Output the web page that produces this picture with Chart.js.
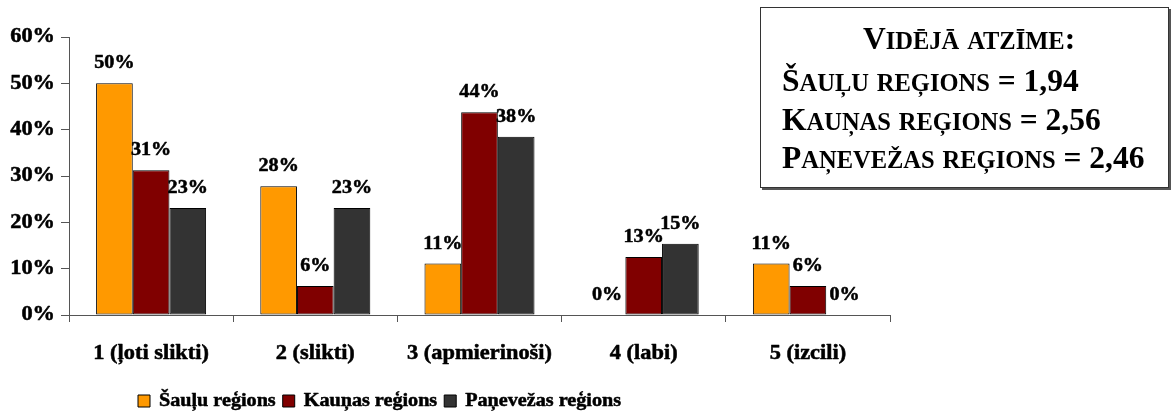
<!DOCTYPE html>
<html>
<head>
<meta charset="utf-8">
<script src="https://cdn.jsdelivr.net/npm/chart.js@4.4.1/dist/chart.umd.min.js"></script>
<style>
html, body { margin: 0; padding: 0; background: #fff; }
#wrap { position: relative; width: 1171px; height: 414px; overflow: hidden; }
#c { position: absolute; left: 0; top: 0; }
#avgBox {
  position: absolute; left: 760px; top: 7px; width: 407px; height: 179px;
  border: 1px solid #333; box-shadow: 2px 2px 0 #555; background: #fff;
  font-family: 'Liberation Serif', 'Times New Roman', serif; font-weight: bold; color: #000;
}
.ln { position: absolute; white-space: nowrap; font-size: 31.5px; line-height: 38px; }
.sc { font-size: 24.5px; text-transform: uppercase; }
</style>
</head>
<body>
<div id="wrap">
  <canvas id="c" width="1171" height="414"></canvas>
  <div id="avgBox"></div>
</div>
<script>
// ---- data ----
const categories = ['1 (ļoti slikti)', '2 (slikti)', '3 (apmierinoši)', '4 (labi)', '5 (izcili)'];
const seriesNames = ['Šauļu reģions', 'Kauņas reģions', 'Paņevežas reģions'];
const sauluValues = [50, 27.78, 11.11, 0, 11.11];
const kaunasValues = [31.25, 6.25, 43.75, 12.5, 6.25];
const panevezasValues = [23.08, 23.08, 38.46, 15.38, 0];
const yTickValues = [0, 10, 20, 30, 40, 50, 60];
const averageTitle = 'Vidējā atzīme:';
const averageRegions = ['Šauļu reģions', 'Kauņas reģions', 'Paņevežas reģions'];
const averageValues = ['1,94', '2,56', '2,46'];

// ---- text box (small caps) ----
function addSmallCaps(el, text) {
  text.split(/(\p{Ll}+)/u).forEach(part => {
    if (!part) return;
    if (/\p{Ll}/u.test(part)) {
      const s = document.createElement('span');
      s.className = 'sc';
      s.textContent = part;
      el.appendChild(s);
    } else {
      el.appendChild(document.createTextNode(part));
    }
  });
}
const box = document.getElementById('avgBox');
const boxLines = [averageTitle].concat(averageRegions.map((r, i) => r + ' = ' + averageValues[i]));
const boxLeft = [102, 21, 21, 21];
const boxTop = [12, 54, 93, 131];
boxLines.forEach((t, i) => {
  const d = document.createElement('div');
  d.className = 'ln';
  d.style.left = boxLeft[i] + 'px';
  d.style.top = boxTop[i] + 'px';
  addSmallCaps(d, t);
  box.appendChild(d);
});

// ---- chart ----
const SX = 1.12; // horizontal stretch of chart texts
const canvas = document.getElementById('c');
const ctx = canvas.getContext('2d');
(function stretchText(c) {
  const fill = c.fillText.bind(c);
  const stroke = c.strokeText.bind(c);
  const measure = c.measureText.bind(c);
  c.fillText = function (text, x, y, maxWidth) {
    c.save();
    c.translate(x, y);
    c.scale(SX, 1);
    c.strokeStyle = c.fillStyle;
    c.lineWidth = 0.5;
    c.lineJoin = 'round';
    if (maxWidth === undefined) { fill(text, 0, 0); stroke(text, 0, 0); }
    else { fill(text, 0, 0, maxWidth / SX); stroke(text, 0, 0, maxWidth / SX); }
    c.restore();
  };
  c.measureText = function (text) {
    const m = measure(text);
    return {
      width: m.width * SX,
      actualBoundingBoxAscent: m.actualBoundingBoxAscent,
      actualBoundingBoxDescent: m.actualBoundingBoxDescent,
      actualBoundingBoxLeft: m.actualBoundingBoxLeft * SX,
      actualBoundingBoxRight: m.actualBoundingBoxRight * SX,
      fontBoundingBoxAscent: m.fontBoundingBoxAscent,
      fontBoundingBoxDescent: m.fontBoundingBoxDescent
    };
  };
})(ctx);

const FONT = "'Liberation Serif', 'Times New Roman', serif";
Chart.defaults.font.family = FONT;
Chart.defaults.color = '#000';

const valueLabels = {
  id: 'valueLabels',
  afterDatasetsDraw(chart) {
    const c = chart.ctx;
    c.save();
    c.font = 'bold 18px ' + FONT;
    c.fillStyle = '#000';
    c.textAlign = 'center';
    c.textBaseline = 'alphabetic';
    chart.data.datasets.forEach((ds, di) => {
      const meta = chart.getDatasetMeta(di);
      meta.data.forEach((bar, i) => {
        c.fillText(Math.round(ds.data[i]) + '%', bar.x, bar.y - 15);
      });
    });
    c.restore();
  }
};

const legendPlacer = {
  id: 'legendPlacer',
  afterLayout(chart) {
    const lg = chart.legend;
    if (!lg) return;
    const h = lg.height;
    lg.left = 131;
    lg.top = 385;
    lg.bottom = 385 + h;
  }
};

const colors = ['#FF9900', '#800000', '#333333'];
const seriesValues = [sauluValues, kaunasValues, panevezasValues];

new Chart(ctx, {
  type: 'bar',
  data: {
    labels: categories,
    datasets: seriesNames.map((name, i) => ({
      label: name,
      data: seriesValues[i],
      backgroundColor: colors[i],
      borderColor: '#000',
      borderWidth: 1,
      borderSkipped: false,
      categoryPercentage: 0.67,
      barPercentage: 1.0
    }))
  },
  options: {
    responsive: false,
    animation: false,
    devicePixelRatio: 1,
    layout: { padding: { left: 0, top: 37, right: 281, bottom: 0 } },
    plugins: {
      legend: {
        position: 'bottom',
        align: 'start',
        labels: {
          boxWidth: 12,
          boxHeight: 12,
          padding: 7,
          color: '#000',
          font: { size: 18, weight: 'bold', family: FONT }
        }
      },
      tooltip: { enabled: false }
    },
    scales: {
      x: {
        offset: true,
        grid: { drawOnChartArea: false, drawTicks: true, tickLength: 7, offset: true, color: '#555' },
        border: { display: true, color: '#555', width: 1 },
        ticks: { padding: 20, maxRotation: 0, autoSkip: false, color: '#000', font: { size: 20, weight: 'bold', family: FONT } },
        afterFit(scale) { scale.height = 64; }
      },
      y: {
        min: 0,
        max: 60,
        afterBuildTicks(scale) { scale.ticks = yTickValues.map(v => ({ value: v })); },
        grid: { drawOnChartArea: false, drawTicks: true, tickLength: 8, color: '#555' },
        border: { display: true, color: '#555', width: 1 },
        ticks: { padding: 6, color: '#000', font: { size: 20, weight: 'bold', family: FONT }, callback: v => v + '%' },
        afterFit(scale) { scale.width = 69; }
      }
    }
  },
  plugins: [valueLabels, legendPlacer]
});
</script>
</body>
</html>
